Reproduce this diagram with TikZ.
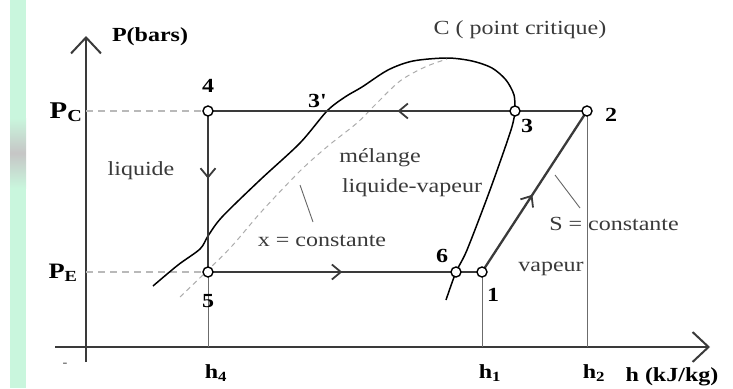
\documentclass[tikz,border=0pt]{standalone}
\usepackage{fontspec}
\setmainfont{Liberation Serif}[FakeStretch=1.2]
\usetikzlibrary{arrows.meta,decorations.markings}
\pgfdeclarelayer{bg}
\pgfsetlayers{bg,main}
\definecolor{mint}{HTML}{C9F6DD}
\definecolor{linec}{HTML}{3A3A3A}
\definecolor{txtc}{HTML}{3A3A3A}
\begin{document}
\begin{tikzpicture}[x=1pt,y=-1pt,
  font=\fontsize{20}{22}\selectfont,
  pt/.style={circle, draw=black, fill=white, line width=1.4pt, minimum size=10pt, inner sep=0pt},
  cyc/.style={draw=linec, line width=2.3pt},
  axisl/.style={draw=linec, line width=2pt},
  thinl/.style={draw=gray!85!black, line width=1pt},
  dashh/.style={draw=gray!55, line width=1.5pt, dash pattern=on 7pt off 5pt},
  sat/.style={draw=black, line width=1.5pt},
  xcst/.style={draw=gray!65, line width=1pt, dash pattern=on 5pt off 4pt},
  leader/.style={draw=gray!80!black, line width=0.9pt},
  lbl/.style={font=\fontsize{20}{22}\selectfont\bfseries, text=black, anchor=base, inner sep=0pt},
  txt/.style={text=txtc, anchor=base, inner sep=0pt},
  midarr/.style={postaction={decorate}, decoration={markings, mark=at position #1 with {\arrow{Straight Barb[length=9pt,width=15pt,line width=1.8pt]}}}}
]
\useasboundingbox (0,0) rectangle (733,388);
% left decorative strip
\fill[mint] (10,0) rectangle (26,388);
\shade[top color=mint, bottom color=mint, middle color=gray!45] (10,118) rectangle (26,188);

% points
\node[pt] (p4) at (208,111) {};
\node[pt] (p3) at (515,111) {};
\node[pt] (p2) at (587,111) {};
\node[pt] (p5) at (208,272) {};
\node[pt] (p6) at (456,272) {};
\node[pt] (p1) at (482,272) {};

% axis coordinates
\coordinate (yb) at (86,362);
\coordinate (yt) at (86,36);
\coordinate (xl) at (55,347);
\coordinate (xr) at (710,347);
\coordinate (pca) at (86,111);
\coordinate (pea) at (86,272);
\coordinate (h4b) at (208,347);
\coordinate (h1b) at (482,347);
\coordinate (h2b) at (587,347);
\coordinate (xa) at (300,185);
\coordinate (xb) at (313,222);
\coordinate (sa) at (555,175);
\coordinate (sb) at (580,208);

\begin{pgfonlayer}{bg}
\draw[axisl, -{Straight Barb[length=16pt,width=30pt]}] (yb) -- (yt);
\draw[axisl, -{Straight Barb[length=16pt,width=30pt]}] (xl) -- (xr);
\draw[dashh] (pca) -- (p4.center);
\draw[dashh] (pea) -- (p5.center);
\draw[thinl] (p5.center) -- (h4b);
\draw[thinl] (p1.center) -- (h1b);
\draw[thinl] (p2.center) -- (h2b);
% saturation curve
\draw[sat] plot[smooth, tension=0.5] coordinates {(153,286) (178,265) (200,249) (208,236) (222,217) (260,180) (300,143) (327,111) (345,97) (362,87) (388,70) (413,61) (447,58) (472,61) (492,68) (506,80) (514,95) (515,111)};
\draw[sat] plot[smooth, tension=0.5] coordinates {(515,111) (511,130) (490,190) (467,250) (456,272) (446,300)};
% x = constante curve
\draw[xcst] plot[smooth, tension=0.5] coordinates {(180,297) (208,270) (232,246) (262,211) (300,171) (328,146) (357,123) (375,105) (400,81) (425,67) (447,59)};
\draw[leader] (xa) -- (xb);
\draw[leader] (sa) -- (sb);
% cycle
\draw[cyc, midarr=0.5] (p2.center) -- (p4.center);
\draw[cyc, midarr=0.42] (p4.center) -- (p5.center);
\draw[cyc, midarr=0.49] (p5.center) -- (p1.center);
\draw[cyc, midarr=0.48] (p1.center) -- (p2.center);
\end{pgfonlayer}

% labels
\node[lbl] (tP) at (150,41) {P(bars)};
\node[txt] (tC) at (520,34) {C ( point critique)};
\node[lbl] (t4) at (208,92) {4};
\node[lbl] (t3p) at (317,107) {3\textquotesingle};
\node[lbl] (t3) at (527,132) {3};
\node[lbl] (t2) at (611,121) {2};
\node[lbl] (t5) at (208,307) {5};
\node[lbl] (t6) at (442,262) {6};
\node[lbl] (t1) at (493,301) {1};
\node[txt] (tliq) at (141,175) {liquide};
\node[txt] (tmel) at (380,162) {mélange};
\node[txt] (tlv) at (412,192) {liquide-vapeur};
\node[txt] (tx) at (322,246) {x = constante};
\node[txt] (ts) at (614,230) {S = constante};
\node[txt] (tvap) at (551,271) {vapeur};
\node[lbl, font=\fontsize{24}{26}\selectfont\bfseries] (tPC) at (66,118) {P\textsubscript{C}};
\node[lbl, font=\fontsize{22}{24}\selectfont\bfseries] (tPE) at (63,278) {P\textsubscript{E}};
\node[lbl] (th4) at (216,378) {h\textsubscript{4}};
\node[lbl] (th1) at (490,378) {h\textsubscript{1}};
\node[lbl] (th2) at (594,378) {h\textsubscript{2}};
\node[lbl, font=\fontsize{20}{22}\selectfont\bfseries] (thu) at (672,381) {h (kJ/kg)};
\node[txt, font=\fontsize{12}{14}\selectfont] (tdash) at (65,366) {-};
\end{tikzpicture}
\end{document}
